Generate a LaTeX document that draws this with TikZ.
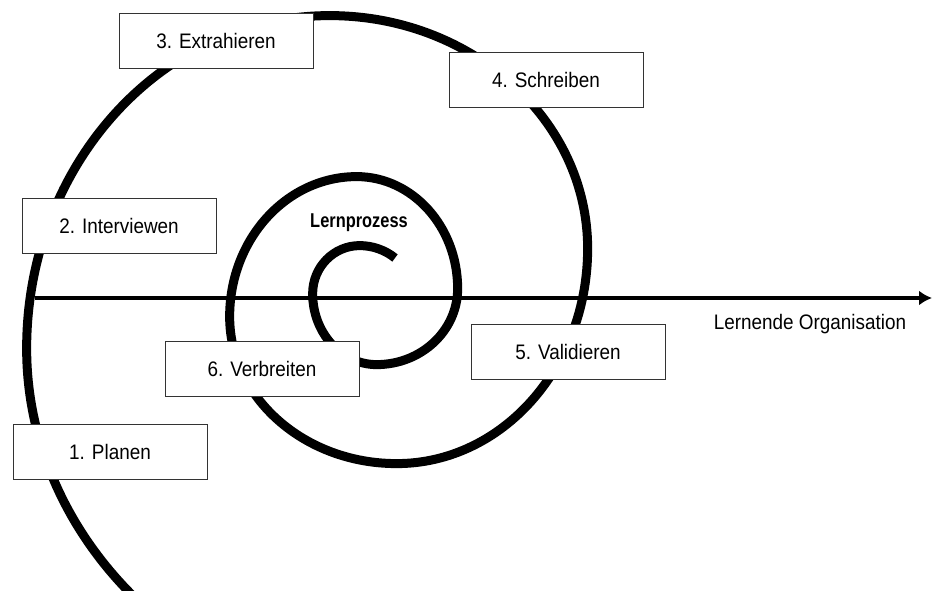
\documentclass[tikz,border=0pt]{standalone}
\usepackage{fontspec}
\setmainfont{Liberation Sans}[FakeStretch=0.9]
\newfontfamily\schmal{Liberation Sans}[FakeStretch=0.82]
\usetikzlibrary{arrows.meta}

\tikzset{
  kasten/.style={draw=black!80, line width=1pt, fill=white,
    minimum width=194pt, minimum height=55pt, inner sep=0pt,
    font=\fontsize{21}{25}\selectfont},
  spirale/.style={line width=9pt, black},
  achse/.style={line width=3.5pt, -{Latex[length=13pt,width=15pt]}}
}

\begin{document}
\begin{tikzpicture}[x=1pt,y=1pt]
            \useasboundingbox (0,0) rectangle (934,-591);
            \clip (0,0) rectangle (934,-591);

            % Spirale aus Viertelbogen (Ellipsen)
            \draw[spirale] (395,-258) arc (50:90:55 and 53)
                arc (90:180:47 and 48)
                arc (180:270:64 and 71)
                arc (270:360:81 and 76)
                arc (0:90:101 and 112)
                arc (90:180:127 and 140)
                arc (180:270:167 and 147)
                arc (270:360:191 and 215)
                arc (0:90:258 and 233)
                arc (90:180:303 and 333)
                arc (180:226:423 and 373);

            % Achse
            \coordinate (links) at (35,-298);
            \coordinate (rechts) at (932,-298);
            \draw[achse] (links) -- (rechts);
            \node[font=\fontsize{21}{25}\selectfont] (organisation) at (810,-324) {Lernende Organisation};
            \node[font=\schmal\bfseries\fontsize{20}{24}\selectfont] (lernprozess) at (359,-223) {Lernprozess};

            % Kaesten der Schritte
            \foreach \nm/\px/\py/\lab in {
            planen/110/-452/1. Planen,
            interviewen/119/-226/2. Interviewen,
            extrahieren/216/-41/3. Extrahieren,
            schreiben/546/-80/4. Schreiben,
            validieren/568/-352/5. Validieren,
            verbreiten/262/-369/6. Verbreiten} {
            \node[kasten] (\nm) at (\px,\py) {\lab};
            }

        \end{tikzpicture}
\end{document}
